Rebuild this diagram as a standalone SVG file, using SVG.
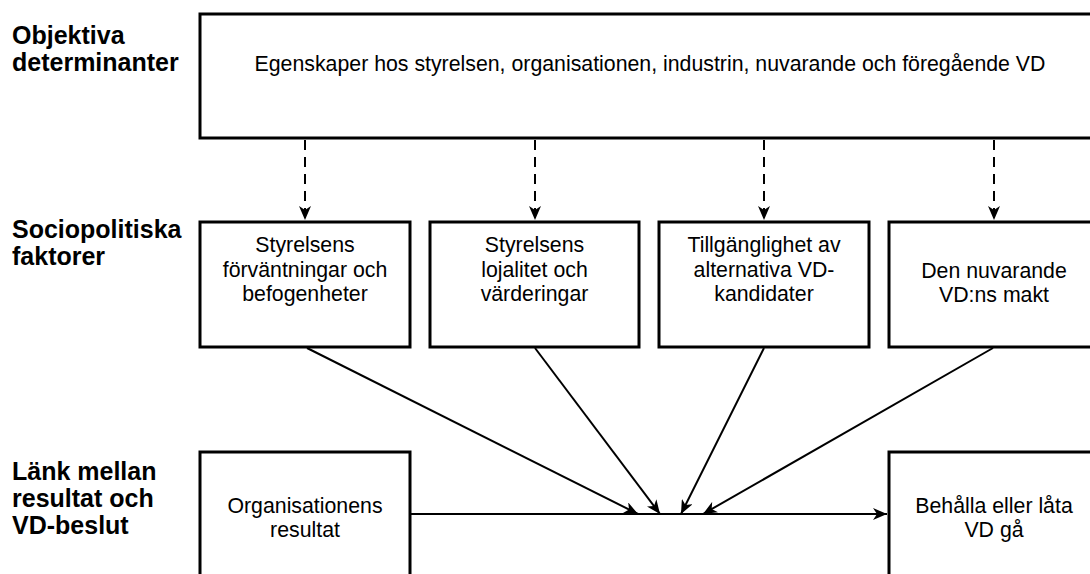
<svg xmlns="http://www.w3.org/2000/svg" width="1090" height="574" viewBox="0 0 1090 574">
<style>
.box{fill:#fff;stroke:#000;stroke-width:3}
.t{font-family:"Liberation Sans",Arial,sans-serif;font-size:21.3px;fill:#000;text-anchor:middle}
.lbl{font-family:"Liberation Sans",Arial,sans-serif;font-size:25px;font-weight:bold;fill:#000}
.c{fill:none;stroke:#000;stroke-width:2}
.d{stroke-dasharray:10 7}
</style>
<defs>
<marker id="ah" viewBox="0 0 14 12" refX="14" refY="6" markerWidth="14" markerHeight="12" markerUnits="userSpaceOnUse" orient="auto">
<path d="M0,0 L14,6 L0,12 L4,6 Z" fill="#000"/>
</marker>
</defs>
<rect width="1090" height="574" fill="#fff"/>
<g id="labels">
<text class="lbl" x="12" y="44">Objektiva</text>
<text class="lbl" x="12" y="71">determinanter</text>
<text class="lbl" x="12" y="238">Sociopolitiska</text>
<text class="lbl" x="12" y="265">faktorer</text>
<text class="lbl" x="12" y="480">Länk mellan</text>
<text class="lbl" x="12" y="507">resultat och</text>
<text class="lbl" x="12" y="534">VD-beslut</text>
</g>
<g id="top">
<rect class="box" x="200" y="14" width="900" height="124"/>
<text class="t" x="650" y="71">Egenskaper hos styrelsen, organisationen, industrin, nuvarande och föregående VD</text>
</g>
<g id="n1">
<rect class="box" x="200" y="222" width="210" height="125"/>
<text class="t" x="305" y="252">Styrelsens</text>
<text class="t" x="305" y="277">förväntningar och</text>
<text class="t" x="305" y="301">befogenheter</text>
</g>
<g id="n2">
<rect class="box" x="430" y="222" width="209" height="125"/>
<text class="t" x="534.5" y="252">Styrelsens</text>
<text class="t" x="534.5" y="277">lojalitet och</text>
<text class="t" x="534.5" y="301">värderingar</text>
</g>
<g id="n3">
<rect class="box" x="659" y="222" width="210" height="125"/>
<text class="t" x="764" y="252">Tillgänglighet av</text>
<text class="t" x="764" y="277">alternativa VD-</text>
<text class="t" x="764" y="301">kandidater</text>
</g>
<g id="n4">
<rect class="box" x="889" y="222" width="210" height="125"/>
<text class="t" x="994" y="278">Den nuvarande</text>
<text class="t" x="994" y="302">VD:ns makt</text>
</g>
<g id="org">
<rect class="box" x="200" y="452" width="210" height="140"/>
<text class="t" x="305" y="513">Organisationens</text>
<text class="t" x="305" y="537">resultat</text>
</g>
<g id="beslut">
<rect class="box" x="889" y="452" width="210" height="140"/>
<text class="t" x="994" y="513">Behålla eller låta</text>
<text class="t" x="994" y="537">VD gå</text>
</g>
<g id="connectors">
<line class="c d" x1="305" y1="140" x2="305" y2="220" marker-end="url(#ah)"/>
<line class="c d" x1="535" y1="140" x2="535" y2="220" marker-end="url(#ah)"/>
<line class="c d" x1="764" y1="140" x2="764" y2="220" marker-end="url(#ah)"/>
<line class="c d" x1="994" y1="140" x2="994" y2="220" marker-end="url(#ah)"/>
<line class="c" x1="307" y1="348" x2="638" y2="514" marker-end="url(#ah)"/>
<line class="c" x1="535" y1="348" x2="660" y2="514" marker-end="url(#ah)"/>
<line class="c" x1="764" y1="348" x2="681" y2="514" marker-end="url(#ah)"/>
<line class="c" x1="993" y1="348" x2="703" y2="514" marker-end="url(#ah)"/>
<line class="c" x1="411" y1="514" x2="887" y2="514" marker-end="url(#ah)"/>
</g>
</svg>
